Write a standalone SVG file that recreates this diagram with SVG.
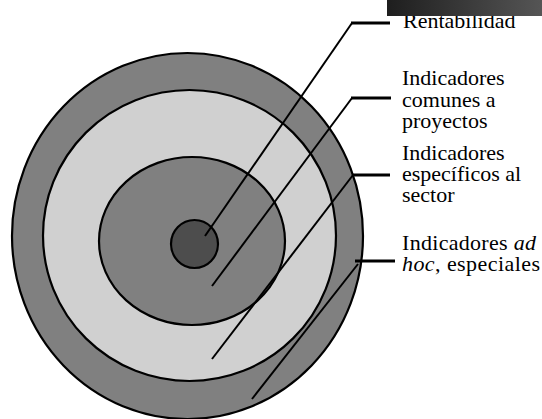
<svg xmlns="http://www.w3.org/2000/svg" width="542" height="419" viewBox="0 0 542 419">
<style>
.ring{stroke:#000;stroke-width:2.2}
.lbl{font-family:"Liberation Serif","Times New Roman",serif;font-size:22px;fill:#000}
.h{stroke:#000;stroke-width:3;fill:none}
.d{stroke:#000;stroke-width:2;fill:none}
</style>
<defs>
<linearGradient id="bar" x1="0" y1="0" x2="1" y2="0">
<stop offset="0" stop-color="#1e1e1e"/>
<stop offset="1" stop-color="#555"/>
</linearGradient>
</defs>
<rect width="542" height="419" fill="#fff"/>
<g id="ring-adhoc"><ellipse class="ring" cx="187.5" cy="236" rx="175.5" ry="183" fill="#808080"/></g>
<g id="ring-sector"><ellipse class="ring" cx="189.5" cy="235.5" rx="146.5" ry="145.5" fill="#d0d0d0"/></g>
<g id="ring-comunes"><ellipse class="ring" cx="192" cy="241" rx="93" ry="84" fill="#808080"/></g>
<g id="ring-rentabilidad"><ellipse class="ring" cx="194.5" cy="244" rx="23.5" ry="24" fill="#4d4d4d"/></g>
<g id="connectors">
<line class="h" x1="351" y1="23" x2="390" y2="23"/>
<line class="d" x1="352" y1="23" x2="205" y2="236"/>
<line class="h" x1="351" y1="98" x2="391" y2="98"/>
<line class="d" x1="352" y1="98" x2="212" y2="286"/>
<line class="h" x1="352" y1="175" x2="390" y2="175"/>
<line class="d" x1="353" y1="175" x2="212" y2="359"/>
<line class="h" x1="355" y1="261" x2="395" y2="261"/>
<line class="d" x1="358" y1="264" x2="252" y2="399"/>
</g>
<g id="label-rentabilidad"><text class="lbl" x="403" y="28">Rentabilidad</text></g>
<g id="label-comunes">
<text class="lbl" x="402" y="85">Indicadores</text>
<text class="lbl" x="402" y="107">comunes a</text>
<text class="lbl" x="402" y="128">proyectos</text>
</g>
<g id="label-sector">
<text class="lbl" x="402" y="160">Indicadores</text>
<text class="lbl" x="402" y="181">específicos al</text>
<text class="lbl" x="402" y="202">sector</text>
</g>
<g id="label-adhoc">
<text class="lbl" x="402" y="250" textLength="134" lengthAdjust="spacing">Indicadores <tspan font-style="italic">ad</tspan></text>
<text class="lbl" x="402" y="271" textLength="138" lengthAdjust="spacing"><tspan font-style="italic">hoc</tspan>, especiales</text>
</g>
<rect x="387" y="0" width="155" height="16" fill="url(#bar)"/>
</svg>
